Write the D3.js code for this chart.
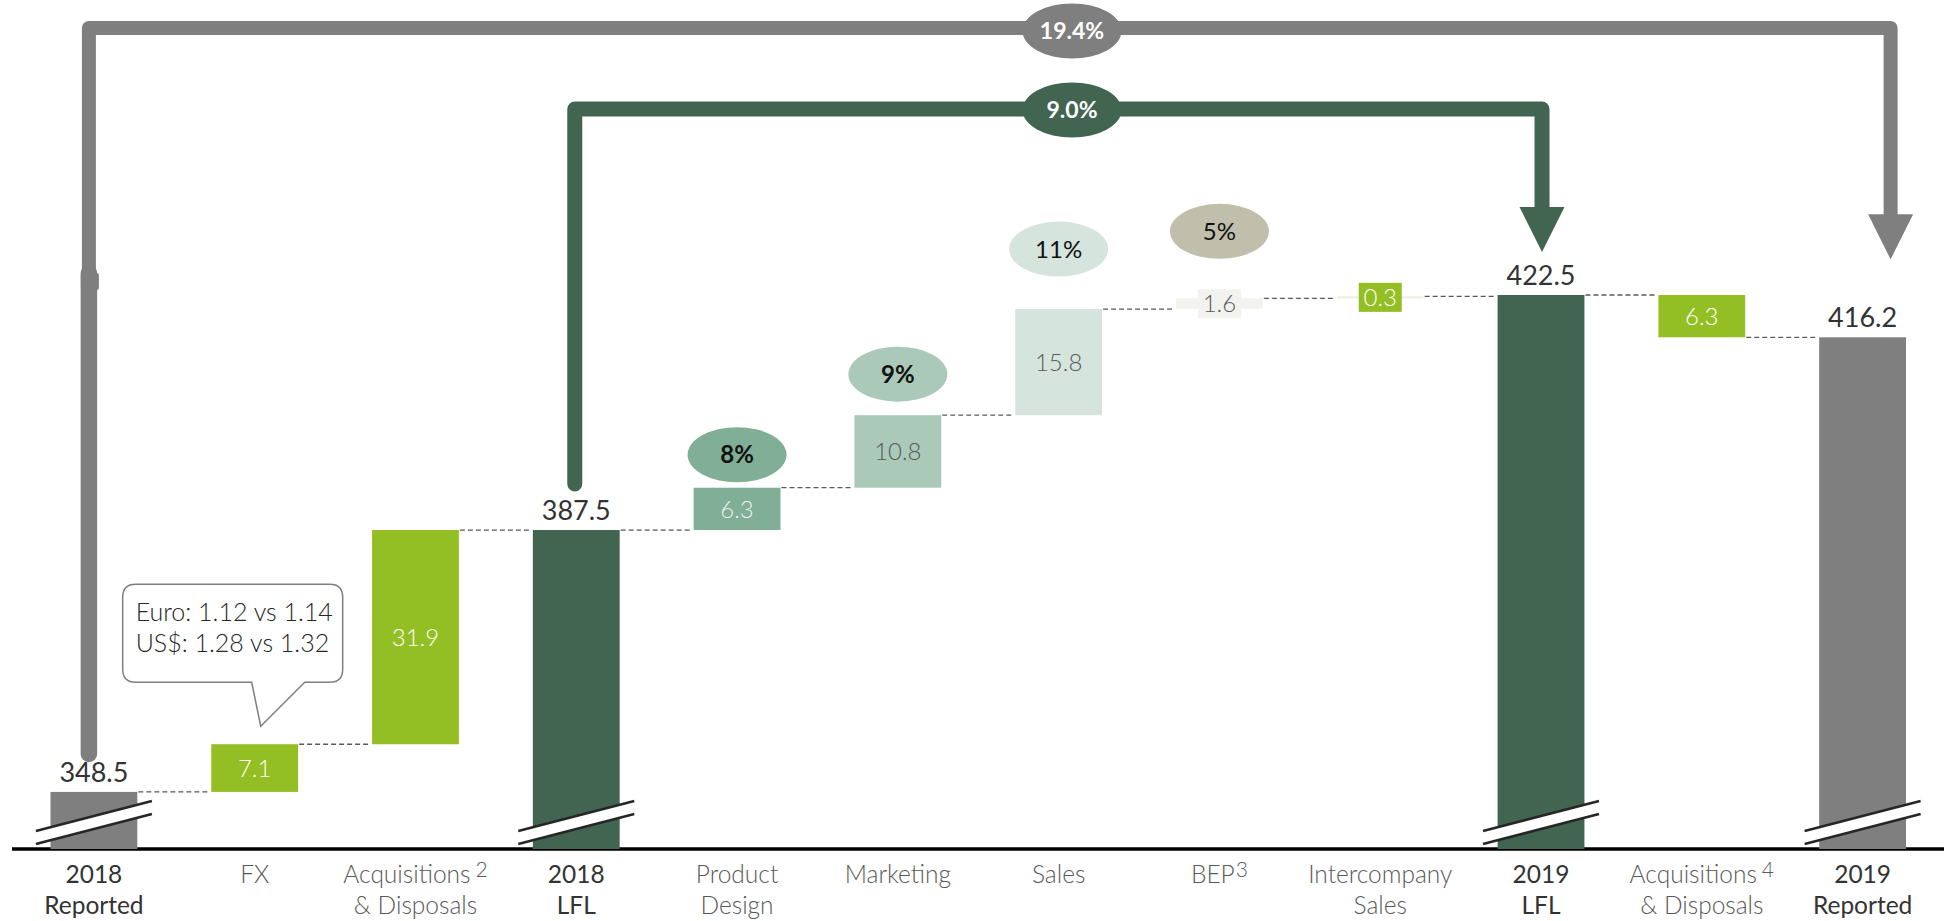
<!DOCTYPE html>
<html>
<head>
<meta charset="utf-8">
<script src="https://cdn.jsdelivr.net/npm/d3@7"></script>
<style>
  html, body { margin: 0; padding: 0; background: #ffffff; }
  svg { display: block; font-family: Lato, "Noto Sans", sans-serif; }
</style>
</head>
<body>
<svg id="chart" width="1944" height="921"></svg>
<script>
// ---- data ---------------------------------------------------------------
const categoryKeys = ["rep18", "fx", "acq18", "lfl18", "pd", "mkt", "sales", "bep", "ics", "lfl19", "acq19", "rep19"];
const labelLine1 = ["2018", "FX", "Acquisitions", "2018", "Product", "Marketing", "Sales", "BEP", "Intercompany", "2019", "Acquisitions", "2019"];
const labelLine2 = ["Reported", "", "& Disposals", "LFL", "Design", "", "", "", "Sales", "LFL", "& Disposals", "Reported"];
const labelNotes = ["", "", "2", "", "", "", "", "3", "", "", "4", ""];
const barKinds = ["total", "step", "step", "total", "step", "step", "step", "step", "step", "total", "step", "total"];
const values = [348.5, 7.1, 31.9, 387.5, 6.3, 10.8, 15.8, 1.6, 0.3, 422.5, -6.3, 416.2];
const valueLabels = ["348.5", "7.1", "31.9", "387.5", "6.3", "10.8", "15.8", "1.6", "0.3", "422.5", "6.3", "416.2"];
const shareKeys = ["pd", "mkt", "sales", "bep"];
const shareLabels = ["8%", "9%", "11%", "5%"];
const growthLabels = ["19.4%", "9.0%"];
const fxNote = ["Euro: 1.12 vs 1.14", "US$: 1.28 vs 1.32"];

// ---- styles ---------------------------------------------------------------
const GRAY = "#7f7f7f", DARK = "#416550", LIME = "#93bf24";
const barFill = {
  rep18: GRAY, fx: LIME, acq18: LIME, lfl18: DARK, pd: "#80ae96", mkt: "#abc9b9",
  sales: "#d5e5dd", bep: "#f2f2ee", ics: "#eceee0", lfl19: DARK, acq19: LIME, rep19: GRAY
};
const innerText = {
  fx: "#ffffff", acq18: "#ffffff", pd: "#eaf2ec", mkt: "#595959", sales: "#595959",
  bep: "#595959", ics: "#ffffff", acq19: "#ffffff"
};
// small steps get a tag box behind their number
const tagFill = { bep: "#f2f2ee", ics: LIME };
const shareFill = { pd: "#80ae96", mkt: "#abc9b9", sales: "#d5e5dd", bep: "#c0bfab" };
const shareBold = { pd: true, mkt: true, sales: false, bep: false };
// distance from the top of each step to the centre of its badge
const shareLift = { pd: 33, mkt: 41, sales: 60, bep: 67 };

// ---- layout -------------------------------------------------------------
const svg = d3.select("#chart");
const baseY = 849;

const x = d3.scaleBand()
  .domain(categoryKeys)
  .range([13.5, 1943])
  .paddingInner(0.46)
  .paddingOuter(0.23);
const bw = x.bandwidth();
const cx = k => x(k) + bw / 2;

const y = d3.scaleLinear().domain([340, 422.5]).range([baseY, 295]);

// running totals for the bridge
let running = 0;
const bars = categoryKeys.map((k, i) => {
  let lo, hi, end;
  if (barKinds[i] === "total") {
    lo = y.domain()[0]; hi = values[i]; end = values[i];
  } else {
    const start = running;
    end = running + values[i];
    lo = Math.min(start, end); hi = Math.max(start, end);
  }
  running = end;
  return { key: k, i, kind: barKinds[i], lo, hi, end, label: valueLabels[i] };
});
const byKey = Object.fromEntries(bars.map(b => [b.key, b]));

// ---- axis ---------------------------------------------------------------
const axis = svg.append("g")
  .attr("transform", `translate(0,${baseY})`)
  .call(d3.axisBottom(x).tickSize(0).tickFormat(""));
axis.select(".domain")
  .attr("d", `M12,0H1944`)
  .attr("stroke", "#000")
  .attr("stroke-width", 3.5);

// ---- connectors -----------------------------------------------------------
svg.append("g").selectAll("line")
  .data(bars.slice(0, -1))
  .join("line")
  .attr("x1", d => x(d.key) + bw + 1)
  .attr("x2", d => x(categoryKeys[d.i + 1]) - 1)
  .attr("y1", d => y(d.end))
  .attr("y2", d => y(d.end))
  .attr("stroke", "#595959")
  .attr("stroke-width", 1.3)
  .attr("stroke-dasharray", "5,3");

// ---- bars ---------------------------------------------------------------
svg.append("g").selectAll("rect")
  .data(bars)
  .join("rect")
  .attr("x", d => x(d.key))
  .attr("width", bw)
  .attr("y", d => y(d.hi))
  .attr("height", d => Math.max(1.5, y(d.lo) - y(d.hi)))
  .attr("fill", d => barFill[d.key]);

// axis break marks on the totals
const breaks = svg.append("g");
bars.filter(d => d.kind === "total").forEach(d => {
  const c = cx(d.key), h = 58;
  breaks.append("path")
    .attr("d", `M${c - h},${baseY - 18}L${c + h},${baseY - 48}L${c + h},${baseY - 35}L${c - h},${baseY - 5}Z`)
    .attr("fill", "#ffffff");
  [[18, 48], [5, 35]].forEach(([a, b]) => {
    breaks.append("line")
      .attr("x1", c - h).attr("y1", baseY - a)
      .attr("x2", c + h).attr("y2", baseY - b)
      .attr("stroke", "#262626").attr("stroke-width", 2.5);
  });
});

// ---- value labels -------------------------------------------------------
const lbl = svg.append("g");
bars.filter(d => d.kind === "total").forEach(d => {
  lbl.append("text")
    .attr("x", cx(d.key))
    .attr("y", y(d.hi) - 10)
    .attr("text-anchor", "middle")
    .attr("font-size", 27)
    .attr("fill", "#333333")
    .text(d.label);
});
bars.filter(d => d.kind === "step").forEach(d => {
  const my = (y(d.lo) + y(d.hi)) / 2;
  if (tagFill[d.key]) {
    lbl.append("rect")
      .attr("x", cx(d.key) - 21.5).attr("width", 43)
      .attr("y", my - 14.5).attr("height", 29)
      .attr("fill", tagFill[d.key]);
  }
  lbl.append("text")
    .attr("x", cx(d.key))
    .attr("y", my)
    .attr("dy", "0.36em")
    .attr("text-anchor", "middle")
    .attr("font-size", 24)
    .attr("font-weight", 300)
    .attr("fill", innerText[d.key])
    .text(d.label);
});

// ---- share badges -------------------------------------------------------
const badges = svg.append("g");
shareKeys.forEach((k, i) => {
  const b = byKey[k];
  const by = y(b.hi) - shareLift[k];
  badges.append("ellipse")
    .attr("cx", cx(k)).attr("cy", by)
    .attr("rx", 49.5).attr("ry", 27.5)
    .attr("fill", shareFill[k]);
  badges.append("text")
    .attr("x", cx(k)).attr("y", by)
    .attr("dy", "0.36em")
    .attr("text-anchor", "middle")
    .attr("font-size", 24)
    .attr("font-weight", shareBold[k] ? 700 : 400)
    .attr("fill", "#111111")
    .text(shareLabels[i]);
});

// ---- growth brackets ----------------------------------------------------
const brackets = svg.append("g");
function bracket(color, width, xa, yStart, yTop, xb, yTip, lowerWide) {
  const headTop = yTip - 45;
  brackets.append("path")
    .attr("d", `M${xa},${yStart}V${yTop}H${xb}V${headTop + 2}`)
    .attr("fill", "none")
    .attr("stroke", color)
    .attr("stroke-width", width)
    .attr("stroke-linejoin", "round")
    .attr("stroke-linecap", "round");
  if (lowerWide) {
    brackets.append("line")
      .attr("x1", xa).attr("x2", xa)
      .attr("y1", lowerWide).attr("y2", yStart)
      .attr("stroke", color).attr("stroke-width", width + 2.5)
      .attr("stroke-linecap", "round");
    brackets.append("rect")
      .attr("x", xa - 8).attr("y", lowerWide)
      .attr("width", 18).attr("height", 17)
      .attr("rx", 2)
      .attr("fill", color);
  }
  brackets.append("path")
    .attr("d", `M${xb - 22.5},${headTop}L${xb + 22.5},${headTop}L${xb},${yTip}Z`)
    .attr("fill", color);
}
const rep18 = byKey.rep18, rep19 = byKey.rep19, lfl18 = byKey.lfl18, lfl19 = byKey.lfl19;
bracket(GRAY, 14, cx("rep18") - 5, y(rep18.hi) - 38, 28, cx("rep19") + 28, y(rep19.hi) - 78, 273);
bracket(DARK, 15, cx("lfl18") - 1.5, y(lfl18.hi) - 46, 109, cx("lfl19") + 1, y(lfl19.hi) - 43, null);

const growth = [
  { label: growthLabels[0], fill: GRAY, cy: 31 },
  { label: growthLabels[1], fill: DARK, cy: 110 }
];
growth.forEach(g => {
  brackets.append("ellipse")
    .attr("cx", 1072).attr("cy", g.cy)
    .attr("rx", 49.5).attr("ry", 27.5)
    .attr("fill", g.fill);
  brackets.append("text")
    .attr("x", 1072).attr("y", g.cy)
    .attr("dy", "0.36em")
    .attr("text-anchor", "middle")
    .attr("font-size", 23)
    .attr("font-weight", 700)
    .attr("fill", "#ffffff")
    .text(g.label);
});

// ---- FX call-out --------------------------------------------------------
const fx = byKey.fx;
const tipX = cx("fx") + 6, tipY = y(fx.hi) - 18;
const bx0 = tipX - 138, bx1 = tipX + 82, by1 = tipY - 44, by0 = by1 - 98, r = 13;
svg.append("path")
  .attr("d", `M${bx0 + r},${by0}H${bx1 - r}Q${bx1},${by0} ${bx1},${by0 + r}V${by1 - r}` +
             `Q${bx1},${by1} ${bx1 - r},${by1}H${tipX + 44}L${tipX},${tipY}L${tipX - 9},${by1}` +
             `H${bx0 + r}Q${bx0},${by1} ${bx0},${by1 - r}V${by0 + r}Q${bx0},${by0} ${bx0 + r},${by0}Z`)
  .attr("fill", "#ffffff")
  .attr("stroke", "#7f7f7f")
  .attr("stroke-width", 1.5);
svg.append("g").selectAll("text")
  .data(fxNote)
  .join("text")
  .attr("x", bx0 + 13)
  .attr("y", (d, i) => by0 + 37 + i * 31)
  .attr("font-size", 25)
  .attr("font-weight", 300)
  .attr("fill", "#262626")
  .text(d => d);

// ---- category labels ----------------------------------------------------
const cat = svg.append("g");
categoryKeys.forEach((k, i) => {
  const strong = barKinds[i] === "total";
  const t = cat.append("text")
    .attr("x", cx(k))
    .attr("y", 883)
    .attr("text-anchor", "middle")
    .attr("font-size", 24.5)
    .attr("font-weight", strong ? 400 : 300)
    .attr("fill", strong ? "#333333" : "#595959");
  t.append("tspan").text(labelLine1[i]);
  if (labelNotes[i]) {
    t.append("tspan")
      .attr("dx", k === "bep" ? 1 : 5)
      .attr("dy", -6)
      .attr("font-size", 21)
      .text(labelNotes[i]);
  }
  if (labelLine2[i]) {
    cat.append("text")
      .attr("x", cx(k))
      .attr("y", 914)
      .attr("text-anchor", "middle")
      .attr("font-size", 24.5)
      .attr("font-weight", strong ? 400 : 300)
      .attr("fill", strong ? "#333333" : "#595959")
      .text(labelLine2[i]);
  }
});
</script>
</body>
</html>
